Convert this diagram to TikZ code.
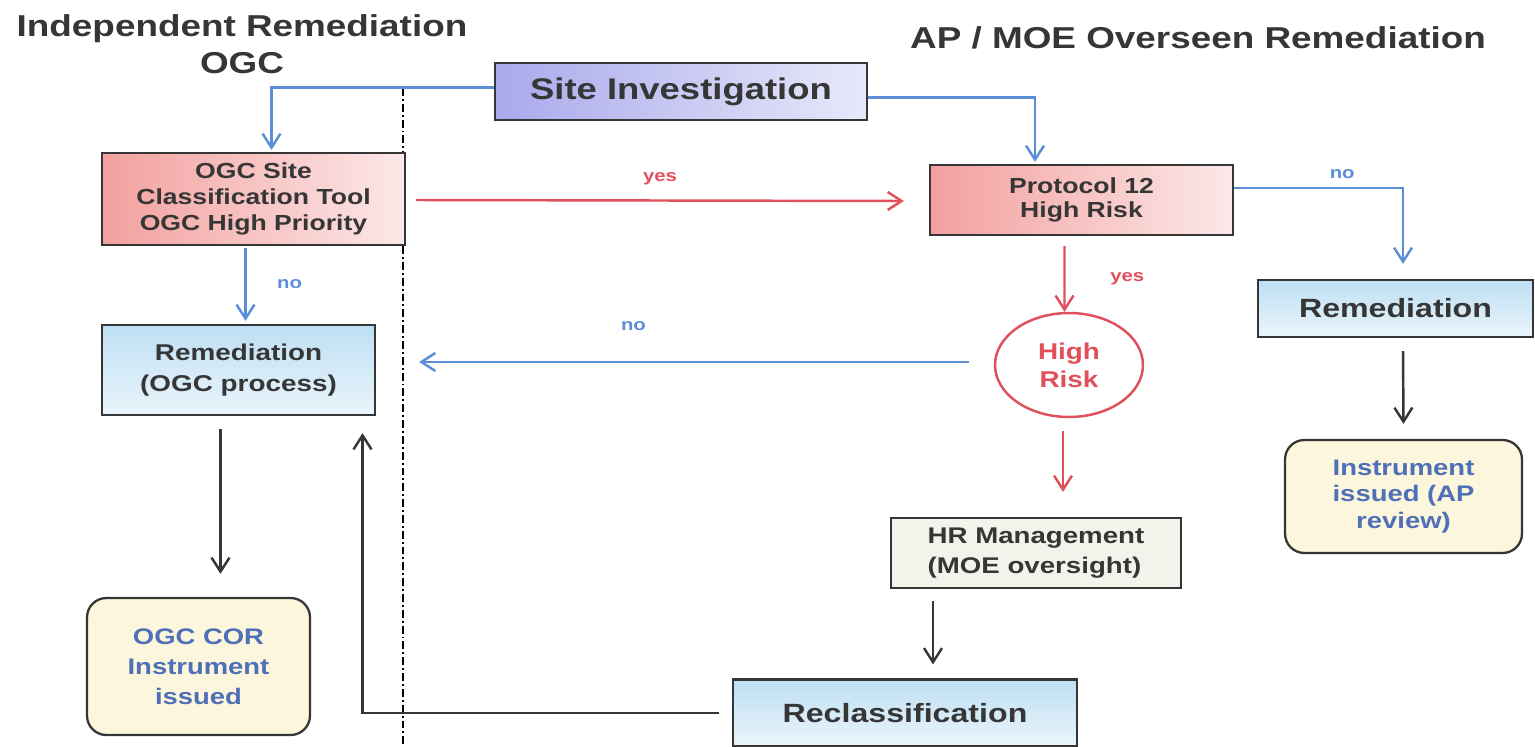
\documentclass[tikz,border=0pt]{standalone}
\usepackage{fontspec}
\setmainfont{Liberation Sans}[FakeStretch=1.22]
\usetikzlibrary{shapes.geometric, arrows.meta, positioning, calc}
\definecolor{inkgray}{HTML}{363636}
\definecolor{flowblue}{HTML}{5B8ED6}
\definecolor{flowred}{HTML}{E0505A}
\definecolor{lavender}{HTML}{A9A9EC}
\definecolor{lavlight}{HTML}{E8E8FA}
\definecolor{salmon}{HTML}{F2A09E}
\definecolor{pinklight}{HTML}{FCE8E8}
\definecolor{skyblue}{HTML}{BEDFF3}
\definecolor{skylight}{HTML}{EAF5FB}
\definecolor{cream}{HTML}{FCF6DC}
\definecolor{paper}{HTML}{F3F3EC}
\definecolor{instblue}{HTML}{4F70B8}

\begin{document}
\begin{tikzpicture}[
    x=0.02cm, y=-0.02cm,
    >={Straight Barb[length=2.8mm,width=3.6mm]},
    heading/.style={font=\bfseries\fontsize{17.2}{21}\selectfont, text=inkgray, align=center},
    stepbox/.style={draw=inkgray, line width=1.3pt, align=center, text=inkgray, inner sep=1pt},
    lavfill/.style={left color=lavender, right color=lavlight},
    pinkfill/.style={left color=salmon, right color=pinklight},
    skyfill/.style={top color=skyblue, bottom color=skylight},
    issued/.style={draw=inkgray, line width=1.3pt, rounded corners=11pt, fill=cream, align=center, text=instblue, inner sep=1pt},
    answer/.style={font=\bfseries\fontsize{9.5}{11}\selectfont},
    bluflow/.style={->, line width=1.4pt, flowblue},
    redflow/.style={->, line width=1.4pt, flowred},
    blkflow/.style={->, line width=1.4pt, inkgray}
  ]
    \useasboundingbox (0,0) rectangle (1535,747);

    % Headings
    \node[heading] (lefthead) at (242,44) {Independent Remediation\\OGC};
    \node[heading] (righthead) at (1198,38) {AP / MOE Overseen Remediation};

    % Divider between the two routes
    \coordinate (divtop) at (403,88);
    \coordinate (divbot) at (403,747);
    \draw[line width=1.2pt, dash pattern=on 4.5pt off 1.7pt on 1.1pt off 1.7pt] (divtop) -- (divbot);

    % Boxes
    \node[stepbox, lavfill, minimum width=7.44cm, minimum height=1.14cm,
          font=\bfseries\fontsize{17}{20}\selectfont] (site) at (681,91.5) {Site Investigation};
    \node[stepbox, pinkfill, minimum width=6.06cm, minimum height=1.84cm,
          font=\bfseries\fontsize{12.4}{14.7}\selectfont] (ogc) at (253.5,199) {OGC Site\\Classification Tool\\OGC High Priority};
    \node[stepbox, pinkfill, minimum width=6.06cm, minimum height=1.4cm,
          font=\bfseries\fontsize{12.4}{13.5}\selectfont] (proto) at (1081.5,200) {Protocol 12\\High Risk};
    \node[stepbox, skyfill, minimum width=5.46cm, minimum height=1.8cm,
          font=\bfseries\fontsize{13}{17.6}\selectfont] (remL) at (238.5,370) {Remediation\\(OGC process)};
    \node[stepbox, skyfill, minimum width=5.5cm, minimum height=1.14cm,
          font=\bfseries\fontsize{15}{18}\selectfont] (remR) at (1395.5,308.5) {Remediation};
    \node[ellipse, draw=flowred, line width=1.4pt, fill=white, minimum width=2.96cm, minimum height=2.08cm,
          inner sep=0pt, align=center, text=flowred, font=\bfseries\fontsize{13}{15.9}\selectfont] (risk) at (1069,365) {High\\Risk};
    \node[stepbox, fill=paper, minimum width=5.8cm, minimum height=1.4cm, align=left,
          font=\bfseries\fontsize{12.9}{17}\selectfont] (hrm) at (1036,553) {HR Management\\(MOE oversight)};
    \node[stepbox, skyfill, minimum width=6.88cm, minimum height=1.34cm,
          font=\bfseries\fontsize{15}{18}\selectfont] (recl) at (905,713) {Reclassification};
    \node[issued, minimum width=4.46cm, minimum height=2.74cm,
          font=\bfseries\fontsize{12.8}{17}\selectfont] (instL) at (198.5,666.5) {OGC COR\\Instrument\\issued};
    \node[issued, minimum width=4.74cm, minimum height=2.26cm,
          font=\bfseries\fontsize{12.8}{15.3}\selectfont] (instR) at (1403.5,496.5) {Instrument\\issued (AP\\review)};

    % Connectors
    \draw[bluflow] ($(site.west)+(0,-4)$) -| ($(ogc.north)+(18,-2)$);
    \draw[bluflow] ($(site.east)+(0,6)$) -| ($(proto.north)+(-46.5,-2)$);
    \draw[redflow] ($(ogc.east)+(10,1)$) -- node[answer, above=5pt, text=flowred] {yes} ($(proto.west)+(-25,1)$);
    \draw[bluflow] ($(proto.east)+(0,-12)$) -| node[answer, pos=0.32, above=1pt] {no} ($(remR.north)+(7.5,-15)$);
    \draw[redflow] ($(proto.south)+(-17,10)$) -- node[answer, right=22pt, text=flowred] {yes} ($(risk.north)+(-4.5,0)$);
    \draw[bluflow] ($(risk.west)+(-25,-3)$) -- node[answer, pos=0.61, above=14pt] {no} ($(remL.east)+(43,-8)$);
    \draw[redflow] ($(risk.south)+(-6,13)$) -- ($(hrm.north)+(27,-25)$);
    \draw[blkflow] ($(hrm.south)+(-103,12)$) -- ($(recl.north)+(28,-14)$);
    \draw[blkflow] ($(recl.west)+(-13,0)$) -| ($(remL.south)+(124,17)$);
    \draw[bluflow] ($(ogc.south)+(-8,2)$) -- node[answer, right=14pt, text=flowblue] {no} ($(remL.north)+(7,-3)$);
    \draw[blkflow] ($(remL.south)+(-18,13)$) -- ($(instL.north)+(22,-23)$);
    \draw[blkflow] ($(remR.south)+(7.5,13)$) -- ($(instR.north)+(0,-15)$);
  \end{tikzpicture}
\end{document}
